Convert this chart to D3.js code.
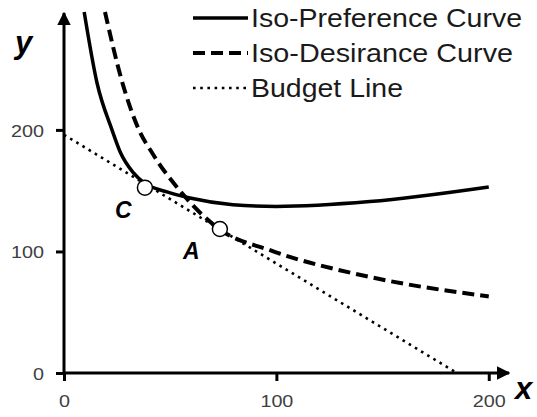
<!DOCTYPE html>
<html>
<head>
<meta charset="utf-8">
<script src="https://cdn.jsdelivr.net/npm/d3@7"></script>
<style>
  body { margin: 0; background: #fff; }
  svg { display: block; }
</style>
</head>
<body>
<svg id="chart" width="537" height="417"></svg>
<script>
// values
const isoPreference = [[9.5,297],[15.5,239],[22.6,200],[26.4,182],[32.5,165],[38.1,156],[48.5,149],[59.3,144],[79.5,138.5],[100,137],[144,141],[200,153]];
const isoDesirance = [[19.3,297],[27.3,240],[35.3,200],[41.9,180],[56,147],[73.4,118],[97,101],[144,79],[200,63]];
const budgetLine = [[0,196],[185,0]];
const points = [{name:"C", x:38.1, y:152.5}, {name:"A", x:73.4, y:118.5}];
const xTicks = [0, 100, 200];
const yTicks = [0, 100, 200];
const legendLabels = ["Iso-Preference Curve", "Iso-Desirance Curve", "Budget Line"];

const svg = d3.select("#chart");
const x = d3.scaleLinear().domain([0, 210]).range([64, 510]);
const y = d3.scaleLinear().domain([0, 297]).range([373, 12]);

const styles = [
  {width: 3.5, dash: null},
  {width: 4, dash: "12,6"},
  {width: 2.6, dash: "2.6,4.6"}
];

let defs = svg.append("defs");
defs.append("marker")
  .attr("id", "arrow")
  .attr("viewBox", "0 0 10 10")
  .attr("refX", 9).attr("refY", 5)
  .attr("markerWidth", 4.5).attr("markerHeight", 4.5)
  .attr("markerUnits", "strokeWidth")
  .attr("orient", "auto")
  .append("path").attr("d", "M0,0L10,5L0,10z").attr("fill", "#000");

// axes
let xAxis = svg.append("g").attr("transform", "translate(0,373)")
  .call(d3.axisBottom(x).tickValues(xTicks).tickSize(8).tickSizeOuter(0).tickPadding(14));
let yAxis = svg.append("g").attr("transform", "translate(64,0)")
  .call(d3.axisLeft(y).tickValues(yTicks).tickSize(8).tickSizeOuter(0).tickPadding(12));

for (let ax of [xAxis, yAxis]) {
  ax.select(".domain").remove();
  ax.selectAll(".tick line").attr("stroke", "#000").attr("stroke-width", 3);
  ax.selectAll(".tick text")
    .attr("fill", "#404040")
    .attr("font-family", "'Liberation Sans', Arial, sans-serif")
    .attr("font-size", 17)
    .attr("textLength", d => String(d).length * 11)
    .attr("lengthAdjust", "spacingAndGlyphs");
}
yAxis.selectAll(".tick text").attr("dy", "0.36em");

svg.append("line")
  .attr("x1", x(0)).attr("y1", y(0)).attr("x2", x(210) - 1).attr("y2", y(0))
  .attr("stroke", "#000").attr("stroke-width", 3).attr("marker-end", "url(#arrow)");
svg.append("line")
  .attr("x1", x(0)).attr("y1", y(0)).attr("x2", x(0)).attr("y2", y(297) + 1)
  .attr("stroke", "#000").attr("stroke-width", 3).attr("marker-end", "url(#arrow)");

// curves
let line = d3.line().x(d => x(d[0])).y(d => y(d[1])).curve(d3.curveMonotoneX);
let straight = d3.line().x(d => x(d[0])).y(d => y(d[1]));

[[budgetLine, 2, straight], [isoDesirance, 1, line], [isoPreference, 0, line]].forEach(([data, i, gen]) => {
  svg.append("path")
    .attr("d", gen(data))
    .attr("fill", "none")
    .attr("stroke", "#000")
    .attr("stroke-width", styles[i].width)
    .attr("stroke-dasharray", styles[i].dash);
});

// marked points
svg.selectAll(".pt").data(points).join("circle")
  .attr("class", "pt")
  .attr("cx", d => x(d.x)).attr("cy", d => y(d.y)).attr("r", 7.5)
  .attr("fill", "#fff").attr("stroke", "#000").attr("stroke-width", 1.5);

function italicLabel(px, py, txt, size) {
  svg.append("text").attr("x", px).attr("y", py).text(txt)
    .attr("font-family", "'Liberation Sans', Arial, sans-serif")
    .attr("font-weight", "bold").attr("font-style", "italic")
    .attr("font-size", size);
}
italicLabel(115, 218, "C", 23);
italicLabel(183, 259, "A", 23);
italicLabel(15, 53, "y", 31);
italicLabel(515, 399, "x", 31);

// legend
let legendWidths = [271, 262, 152];
legendLabels.forEach((label, i) => {
  let cy = 18 + i * 35;
  svg.append("line")
    .attr("x1", 193).attr("x2", 248).attr("y1", cy).attr("y2", cy)
    .attr("stroke", "#000")
    .attr("stroke-width", styles[i].width)
    .attr("stroke-dasharray", styles[i].dash);
  svg.append("text")
    .attr("x", 251).attr("y", cy + 9)
    .attr("fill", "#1a1a1a")
    .attr("font-family", "'Liberation Sans', Arial, sans-serif")
    .attr("font-size", 26)
    .attr("textLength", legendWidths[i])
    .attr("lengthAdjust", "spacingAndGlyphs")
    .text(label);
});
</script>
</body>
</html>
